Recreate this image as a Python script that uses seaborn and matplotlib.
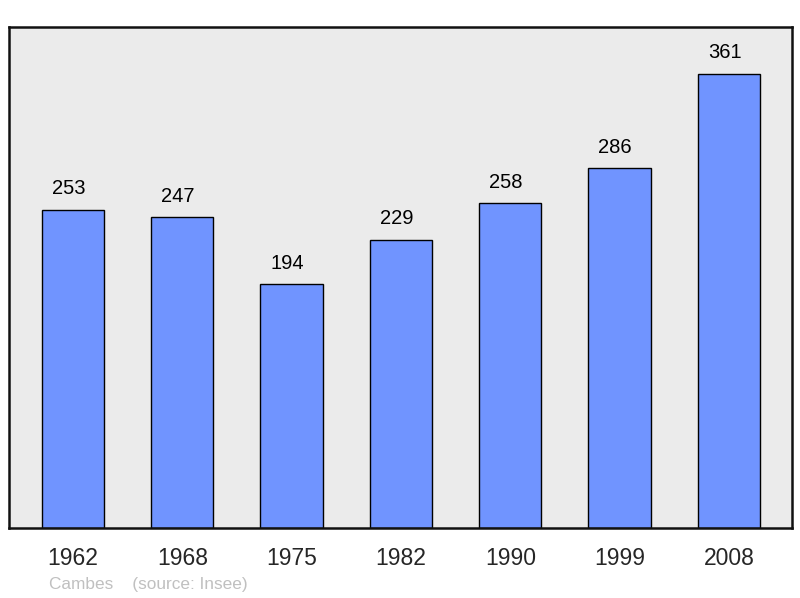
import matplotlib
matplotlib.use("Agg")
import matplotlib.pyplot as plt
import seaborn as sns
import pandas as pd

years = ["1962", "1968", "1975", "1982", "1990", "1999", "2008"]
population = [253, 247, 194, 229, 258, 286, 361]

df = pd.DataFrame({"year": years, "pop": population})

sns.set_style("white")
plt.rcParams['font.family'] = ['Liberation Sans', 'DejaVu Sans']

fig = plt.figure(figsize=(8, 5.98), dpi=100)
ax = fig.add_axes([9/800, 1 - 528/598, 783/800, 501/598])
ax.set_facecolor("#ebebeb")

sns.barplot(data=df, x="year", y="pop", color="#7094ff", saturation=1,
            width=0.57, edgecolor="black", linewidth=1, ax=ax)

for i, v in enumerate(population):
    ax.text(i - 0.04, v + 16.5, str(v), ha="center", va="center", fontsize=14.5, color="black")

ax.set_xlim(-0.585, 6.577)
ax.set_ylim(0, 398)
ax.set_yticks([])
ax.set_xlabel("")
ax.set_ylabel("")
ax.tick_params(axis="x", length=0, labelsize=16.5, pad=14)
for s in ax.spines.values():
    s.set_visible(True)
    s.set_linewidth(1.8)
    s.set_color("#111111")

fig.text(49/800, 1 - 584/598, "Cambes    (source: Insee)", fontsize=12.4,
         color="#c0c0c0", ha="left", va="center")

fig.savefig("out.png", dpi=100)
